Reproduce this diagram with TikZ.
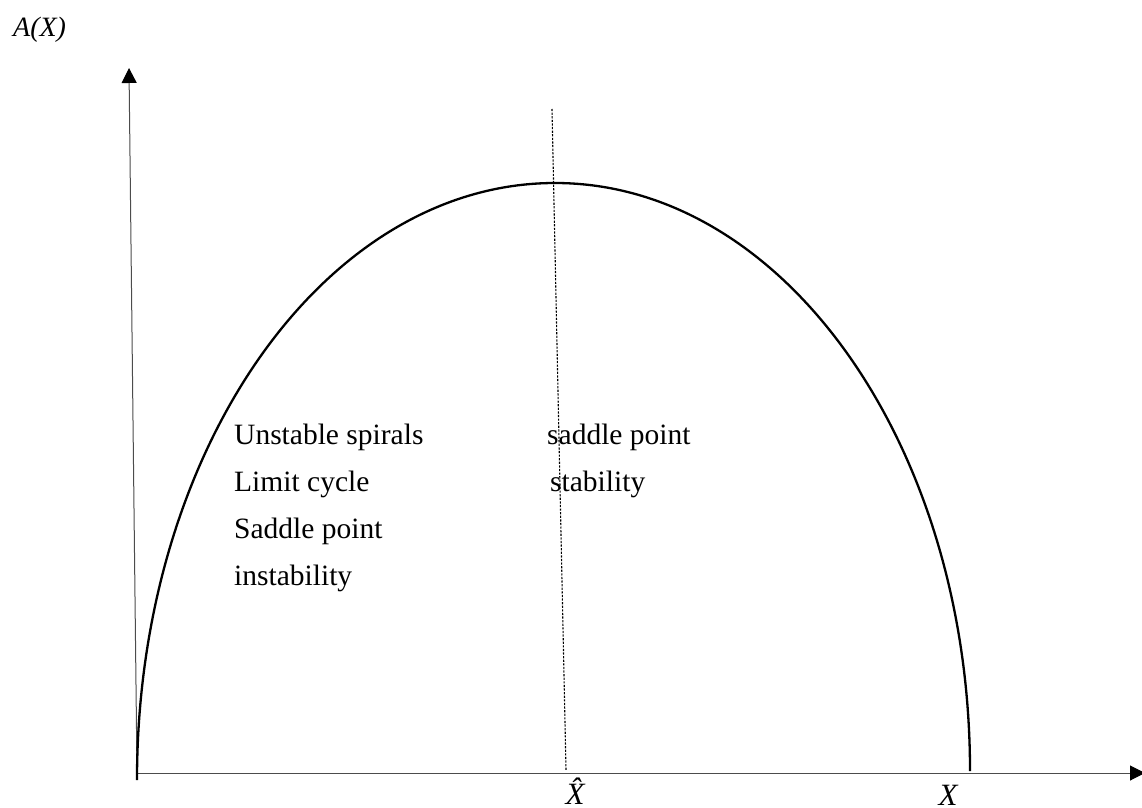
\documentclass[tikz,border=0pt]{standalone}
\usepackage{fontspec}
\setmainfont{Liberation Serif}
\usetikzlibrary{arrows.meta}
\tikzset{
  axis/.style={draw=black!70, line width=1pt},
  curve/.style={draw=black, line width=2.3pt},
  guide/.style={draw=black, line width=1.1pt, dash pattern=on 2.2pt off 1.4pt},
  lbl/.style={inner sep=0pt, anchor=base west, font=\fontsize{29.5}{35}\selectfont},
  axlbl/.style={inner sep=0pt, anchor=base, font=\fontsize{31}{35}\selectfont\itshape},
  tip/.style={-{Triangle[length=15pt,width=15pt,color=black]}}
}
\begin{document}
\begin{tikzpicture}[x=1pt,y=1pt]
\useasboundingbox (0,0) rectangle (1142,807);
% axes
\coordinate (O) at (137,34);
\coordinate (Ytop) at (129,739);
\coordinate (Xend) at (1145,34);
\draw[axis,tip] (O) -- (Ytop);
\draw[axis,tip] (O) -- (Xend);
% dotted guide
\coordinate (Gtop) at (552,698);
\coordinate (Gbot) at (566,37);
\draw[guide] (Gtop) -- (Gbot);
% curve
\coordinate (C0) at (137,27);
\coordinate (Cpk) at (555,624);
\coordinate (C1) at (970,36);
\draw[curve] (C0) arc[start angle=180, end angle=90, x radius=418pt, y radius=597pt]
  arc[start angle=90, end angle=0, x radius=415pt, y radius=588pt];
% labels
\node[axlbl, anchor=base west, font=\fontsize{28}{35}\selectfont\itshape] (AX) at (13,770) {A(X)};
\node[axlbl] (Xhat) at (575,3) {\^{X}};
\node[axlbl] (Xl) at (948,2) {X};
\node[lbl] (t1) at (234,363) {Unstable spirals};
\node[lbl] (t2) at (234,316) {Limit cycle};
\node[lbl] (t3) at (234,269) {Saddle point};
\node[lbl] (t4) at (234,222) {instability};
\node[lbl] (r1) at (547,363) {saddle point};
\node[lbl] (r2) at (550,316) {stability};
\end{tikzpicture}
\end{document}
